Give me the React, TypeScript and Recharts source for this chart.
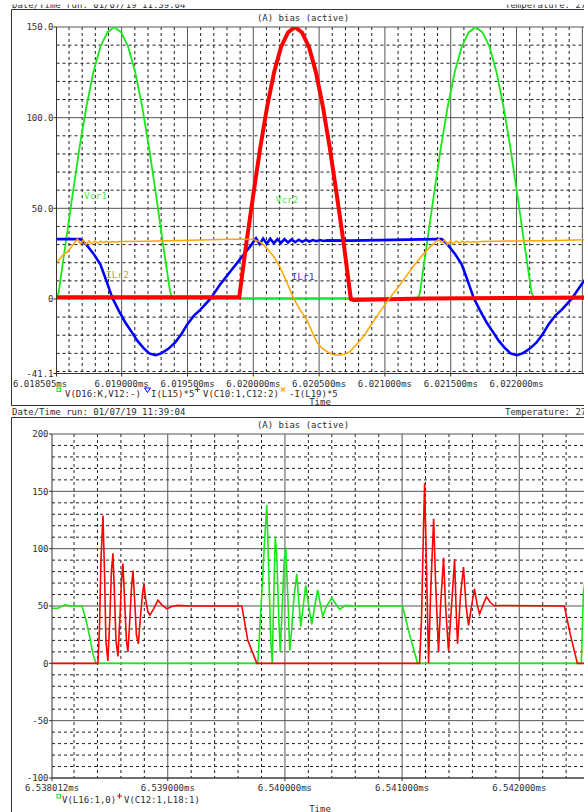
import React from 'react';
import { LineChart, Line, XAxis, YAxis, CartesianGrid, ReferenceDot } from 'recharts';

const FONT = '"DejaVu Sans Mono", "Liberation Mono", monospace';
const TXT = '#2e2e2e';

// ---------------- top plot (time in ns) ----------------
const topXTicks = [6018505, 6019000, 6019500, 6020000, 6020500, 6021000, 6021500, 6022000];
const topYTicks = [150, 100, 50, 0, -41.1];
const topYMajor = [150, 100, 50, 0];
const topYMinor = [140, 130, 120, 110, 90, 80, 70, 60, 40, 30, 20, 10, -10, -20, -30, -40];
const topXMajor = [6019000, 6019500, 6020000, 6020500, 6021000, 6021500, 6022000, 6022500];
const topXMinor = [6018600, 6018700, 6018800, 6018900, 6019100, 6019200, 6019300, 6019400, 6019600, 6019700, 6019800, 6019900,
  6020100, 6020200, 6020300, 6020400, 6020600, 6020700, 6020800, 6020900, 6021100, 6021200, 6021300, 6021400,
  6021600, 6021700, 6021800, 6021900, 6022100, 6022200, 6022300, 6022400, 6022600];

// V(D16:K,V12:-)
const topGreen: [number, number][] = [
  [6018505, 2], [6018520, 3], [6018573, 30], [6018626, 57], [6018679, 83], [6018732, 106], [6018785, 125], [6018838, 139],
  [6018891, 147], [6018944, 150], [6018997, 147], [6019050, 139], [6019103, 125], [6019156, 106], [6019209, 83],
  [6019262, 57], [6019315, 30], [6019368, 4], [6019385, 0.5], [6021250, 0.5], [6021265, 3], [6021318, 30], [6021371, 57],
  [6021424, 83], [6021477, 106], [6021530, 125], [6021583, 139], [6021636, 147], [6021689, 150], [6021742, 147],
  [6021795, 139], [6021848, 125], [6021901, 106], [6021954, 83], [6022007, 57], [6022060, 30], [6022113, 4],
  [6022130, 0.5], [6022640, 0.5],
];
// I(L15)*5
const topBlue: [number, number][] = [
  [6018505, 33], [6018687, 33], [6018732, 30], [6018786, 25], [6018839, 19], [6018884, 10], [6018930, 0.5], [6018975, -6],
  [6019028, -13], [6019074, -18], [6019119, -23], [6019165, -27], [6019210, -30], [6019256, -31], [6019301, -30],
  [6019354, -27.5], [6019407, -24], [6019453, -19.5], [6019498, -14], [6019551, -9], [6019597, -6], [6019673, 0],
  [6019748, 8], [6019824, 15], [6019900, 22], [6019976, 29], [6020021, 33.5], [6020048, 30.3], [6020075, 33.3],
  [6020102, 30.5], [6020129, 33.2], [6020156, 30.7], [6020183, 33], [6020210, 30.9], [6020237, 33], [6020264, 31.1],
  [6020291, 32.8], [6020318, 31.3], [6020345, 32.7], [6020372, 31.5], [6020399, 32.6], [6020426, 31.7], [6020453, 32.5],
  [6020480, 31.9], [6020507, 32.5], [6020534, 32], [6020561, 32.3], [6020734, 32.2], [6021394, 33], [6021432, 33],
  [6021477, 30], [6021531, 25], [6021584, 19], [6021629, 10], [6021675, 0.5], [6021720, -6], [6021773, -13],
  [6021819, -18], [6021864, -23], [6021910, -27], [6021955, -30], [6022001, -31], [6022046, -30], [6022099, -27.5],
  [6022152, -24], [6022198, -19.5], [6022243, -14], [6022296, -9], [6022342, -6], [6022418, 0], [6022493, 8],
  [6022569, 15], [6022645, 22],
];
// V(C10:1,C12:2)
const topRed: [number, number][] = [
  [6018505, 1], [6019893, 1], [6019946, 30], [6019999, 57], [6020052, 83], [6020105, 106], [6020158, 125], [6020211, 139],
  [6020264, 147], [6020317, 150], [6020370, 147], [6020423, 139], [6020476, 125], [6020529, 106], [6020582, 83],
  [6020635, 57], [6020688, 30], [6020741, 0], [6020760, -0.5], [6021300, 0.3], [6022640, 0.8],
];
// -I(L19)*5
const topOrange: [number, number][] = [
  [6018505, 20], [6018550, 24], [6018588, 26], [6018626, 29.5], [6018664, 33], [6018686, 30.5], [6018708, 32.5],
  [6018730, 30], [6018752, 32], [6018774, 30.5], [6018796, 32], [6018818, 30.8], [6018840, 31.9], [6018862, 31],
  [6018884, 31.8], [6018906, 31.2], [6018928, 31.7], [6018950, 31.3], [6018980, 31.7], [6019200, 31.8], [6019600, 32.5],
  [6019824, 33], [6019991, 33], [6020052, 31.5], [6020105, 28], [6020158, 23], [6020203, 17.6], [6020256, 9],
  [6020302, 1], [6020355, -6], [6020408, -11.6], [6020446, -18], [6020484, -24], [6020522, -27], [6020560, -29],
  [6020598, -30.5], [6020636, -31], [6020689, -30.5], [6020734, -29], [6020780, -25.5], [6020833, -21], [6020893, -14.5],
  [6020962, -7], [6021037, 0.5], [6021113, 7.7], [6021166, 13], [6021227, 19], [6021288, 24.5], [6021348, 29],
  [6021409, 33], [6021431, 31], [6021453, 32.5], [6021475, 30], [6021497, 32], [6021519, 30.5], [6021541, 32],
  [6021563, 30.8], [6021585, 31.9], [6021607, 31], [6021629, 31.8], [6021651, 31.2], [6021673, 31.7], [6021695, 31.3],
  [6021725, 31.7], [6022000, 32], [6022300, 32.3], [6022645, 32.8],
];
const topAnnotations: { t: number; v: number; text: string; color: string }[] = [
  { t: 6018801, v: 56.8, text: 'Vcr1', color: '#4cf04c' },
  { t: 6020257, v: 54.6, text: 'Vcr2', color: '#4cf04c' },
  { t: 6018968, v: 13.2, text: 'ILr2', color: '#b3a445' },
  { t: 6020378, v: 12.1, text: 'ILr1', color: '#3a3ae0' },
];

// ---------------- bottom plot (time in ns) ----------------
const botXTicks = [6538012, 6539000, 6540000, 6541000, 6542000];
const botYTicks = [200, 150, 100, 50, 0, -50, -100];
const botYMinor = [190, 180, 170, 160, 140, 130, 120, 110, 90, 80, 70, 60, 40, 30, 20, 10, -10, -20, -30, -40, -60, -70, -80, -90];
const botXMajor = [6539000, 6540000, 6541000, 6542000];
const botXMinor = [6538200, 6538400, 6538600, 6538800, 6539200, 6539400, 6539600, 6539800, 6540200, 6540400, 6540600,
  6540800, 6541200, 6541400, 6541600, 6541800, 6542200, 6542400, 6542600];

// V(L16:1,0)
const botGreen: [number, number][] = [
  [6538012, 48], [6538063, 48], [6538123, 51], [6538183, 50], [6538268, 50], [6538302, 38], [6538336, 22], [6538362, 8],
  [6538387, 0], [6539768, 0], [6539777, 15], [6539802, 60], [6539828, 110], [6539845, 138], [6539862, 80], [6539879, 20],
  [6539892, 0], [6539905, 60], [6539917, 110], [6539930, 95], [6539947, 40], [6539960, 10], [6539977, 50], [6539994, 90],
  [6540007, 101], [6540024, 60], [6540041, 11], [6540058, 30], [6540075, 55], [6540101, 78], [6540118, 55], [6540135, 32],
  [6540156, 50], [6540177, 68], [6540203, 50], [6540229, 34], [6540254, 50], [6540280, 64], [6540301, 52], [6540322, 41],
  [6540356, 50], [6540399, 57], [6540433, 52], [6540467, 47], [6540518, 50.5], [6540578, 50], [6541004, 50],
  [6541064, 25], [6541132, 0], [6542530, 0], [6542547, 61], [6542598, 100],
];
// V(C12:1,L18:1)
const botRed: [number, number][] = [
  [6538012, 0], [6538404, 0], [6538417, 30], [6538430, 90], [6538447, 129], [6538460, 80], [6538472, 20], [6538489, 2],
  [6538506, 40], [6538519, 80], [6538532, 96], [6538545, 60], [6538558, 20], [6538575, 6], [6538592, 40], [6538604, 70],
  [6538617, 87], [6538634, 50], [6538647, 20], [6538660, 10], [6538677, 40], [6538690, 65], [6538703, 81], [6538720, 50],
  [6538732, 25], [6538749, 17], [6538766, 40], [6538784, 60], [6538796, 69], [6538813, 55], [6538830, 45], [6538847, 42],
  [6538882, 48], [6538916, 55], [6538950, 51], [6538992, 47.5], [6539035, 49.5], [6539086, 50.5], [6539188, 50],
  [6539632, 50], [6539683, 20], [6539760, 0], [6541149, 0], [6541166, 40], [6541183, 120], [6541192, 157], [6541209, 80],
  [6541226, 0], [6541243, 60], [6541269, 126], [6541286, 70], [6541311, 10], [6541328, 50], [6541354, 92], [6541371, 50],
  [6541396, 11], [6541422, 50], [6541448, 91], [6541460, 50], [6541473, 17], [6541499, 60], [6541524, 84], [6541546, 50],
  [6541567, 33], [6541593, 50], [6541618, 65], [6541639, 52], [6541661, 43], [6541695, 52], [6541720, 58], [6541754, 53],
  [6541789, 50], [6541831, 50.5], [6542385, 50], [6542436, 25], [6542496, 0], [6542689, 0],
];

const toPts = (a: [number, number][]) => a.map(([t, v]) => ({ t, v }));
const fmtMs = (ns: number) => (ns / 1e6).toFixed(6) + 'ms';

const TopXTick = (p: any) => {
  const first = p.index === 0;
  return (
    <text x={first ? 13 : p.x} y={p.y + 10} textAnchor={first ? 'start' : 'middle'} fontFamily={FONT} fontSize={9} fill={TXT}>
      {fmtMs(p.payload.value)}
    </text>
  );
};
const BotXTick = (p: any) => (
  <text x={p.x} y={p.y + 9.5} textAnchor="middle" fontFamily={FONT} fontSize={9} fill={TXT}>
    {fmtMs(p.payload.value)}
  </text>
);
const TopYTick = (p: any) => (
  <text x={p.x} y={p.y + 3.2} textAnchor="end" fontFamily={FONT} fontSize={9} fill={TXT}>
    {p.payload.value === 0 ? '0' : Number(p.payload.value).toFixed(1)}
  </text>
);
const BotYTick = (p: any) => (
  <text x={p.x - 0.5} y={p.y + 3.2} textAnchor="end" fontFamily={FONT} fontSize={9} fill={TXT}>
    {String(p.payload.value)}
  </text>
);

function TopChart() {
  return (
    <LineChart width={620} height={400} margin={{ top: 27, right: 20, bottom: 0, left: 0 }}>
      <CartesianGrid horizontalValues={topYMinor} verticalValues={topXMinor} stroke="#222" strokeDasharray="3 3" />
      <CartesianGrid horizontalValues={topYMajor} verticalValues={topXMajor} stroke="#555" />
      <XAxis type="number" dataKey="t" domain={[6018505, 6022634]} allowDataOverflow ticks={topXTicks} interval={0}
        height={26.5} tickSize={3} tickMargin={0} tick={<TopXTick />} stroke="#333" />
      <YAxis type="number" dataKey="v" domain={[-41.1, 150]} allowDataOverflow ticks={topYTicks} interval={0}
        width={56.5} tickSize={3} tickMargin={0} tick={<TopYTick />} stroke="#333" />
      <Line data={toPts(topGreen)} dataKey="v" type="linear" stroke="#18e818" strokeWidth={1.8} dot={false} isAnimationActive={false} />
      <Line data={toPts(topBlue)} dataKey="v" type="linear" stroke="#0000ff" strokeWidth={2.6} dot={false} isAnimationActive={false} />
      <Line data={toPts(topRed)} dataKey="v" type="linear" stroke="#ff0000" strokeWidth={4} dot={false} isAnimationActive={false} />
      <Line data={toPts(topOrange)} dataKey="v" type="linear" stroke="#ffa500" strokeWidth={1.5} dot={false} isAnimationActive={false} />
      {topAnnotations.map((a) => (
        <ReferenceDot key={a.text} x={a.t} y={a.v} r={0} fill="none" stroke="none"
          label={{ value: a.text, position: 'center', fill: a.color, fontSize: 9.5, fontFamily: FONT }} />
      ))}
    </LineChart>
  );
}

function BottomChart() {
  return (
    <LineChart width={620} height={378} margin={{ top: 14, right: 20, bottom: 0, left: 0 }}>
      <CartesianGrid horizontalValues={botYMinor} verticalValues={botXMinor} stroke="#222" strokeDasharray="3 3" />
      <CartesianGrid horizontalValues={botYTicks} verticalValues={botXMajor} stroke="#555" />
      <XAxis type="number" dataKey="t" domain={[6538012, 6542689]} allowDataOverflow ticks={botXTicks} interval={0}
        height={20} tickSize={3} tickMargin={0} tick={<BotXTick />} stroke="#333" />
      <YAxis type="number" dataKey="v" domain={[-100, 200]} allowDataOverflow ticks={botYTicks} interval={0}
        width={52} tickSize={3} tickMargin={0} tick={<BotYTick />} stroke="#333" />
      <Line data={toPts(botGreen)} dataKey="v" type="linear" stroke="#18e818" strokeWidth={1.6} dot={false} isAnimationActive={false} />
      <Line data={toPts(botRed)} dataKey="v" type="linear" stroke="#ff0000" strokeWidth={1.6} dot={false} isAnimationActive={false} />
    </LineChart>
  );
}

const T = (props: any) => <text fontFamily={FONT} fontSize={9} fill={TXT} {...props} />;

export default function App() {
  return (
    <div style={{ position: 'fixed', left: 0, top: 0, width: 584, height: 812, overflow: 'hidden', background: '#fff' }}>
      <svg style={{ position: 'absolute', left: 0, top: 0 }} width={584} height={812}>
        {/* top header (cut) */}
        <T x={12} y={8}>Date/Time run: 01/07/19 11:39:04</T>
        <T x={505} y={8}>Temperature: 27</T>
        <rect x={0} y={0} width={584} height={4.5} fill="#fff" />
        {/* top frame */}
        <path d="M11.5 9.5 H700 M11.5 9.5 V405.5 H700" stroke="#333" fill="none" />
        <T x={303} y={20.5} textAnchor="middle">(A) bias (active)</T>
        {/* top legend */}
        <rect x={57} y={388} width={3.5} height={3.5} fill="none" stroke="#18e818" strokeWidth={1} />
        <T x={65} y={396.5}>V(D16:K,V12:-)</T>
        <path d="M144.5 388 H150.5 L147.5 392.5 Z" fill="none" stroke="#0000ff" strokeWidth={1} />
        <T x={151} y={396.5}>I(L15)*5</T>
        <path d="M197.5 387 V392 M195 389.5 H200" stroke="#ff0000" strokeWidth={1.2} />
        <T x={203} y={396.5}>V(C10:1,C12:2)</T>
        <path d="M281 387.5 L285 391.5 M285 387.5 L281 391.5" stroke="#ffa500" strokeWidth={1.2} />
        <T x={289} y={396.5}>-I(L19)*5</T>
        <T x={320} y={405} textAnchor="middle">Time</T>
        <path d="M11.5 405.5 H700" stroke="#333" />
        {/* bottom header */}
        <T x={12} y={415}>Date/Time run: 01/07/19 11:39:04</T>
        <T x={505} y={415}>Temperature: 27</T>
        <path d="M11.5 417.5 H700 M11.5 417.5 V812" stroke="#333" fill="none" />
        <T x={303} y={428} textAnchor="middle">(A) bias (active)</T>
        {/* bottom legend */}
        <rect x={57} y={794.5} width={3.5} height={3.5} fill="none" stroke="#18e818" strokeWidth={1} />
        <T x={62} y={803}>V(L16:1,0)</T>
        <path d="M119.5 793.5 V798.5 M117 796 H122" stroke="#ff0000" strokeWidth={1.2} />
        <T x={124} y={803}>V(C12:1,L18:1)</T>
        <T x={320} y={812} textAnchor="middle">Time</T>
      </svg>
      <div style={{ position: 'absolute', left: 0, top: 0 }}>
        <TopChart />
      </div>
      <div style={{ position: 'absolute', left: 0, top: 420 }}>
        <BottomChart />
      </div>
    </div>
  );
}
